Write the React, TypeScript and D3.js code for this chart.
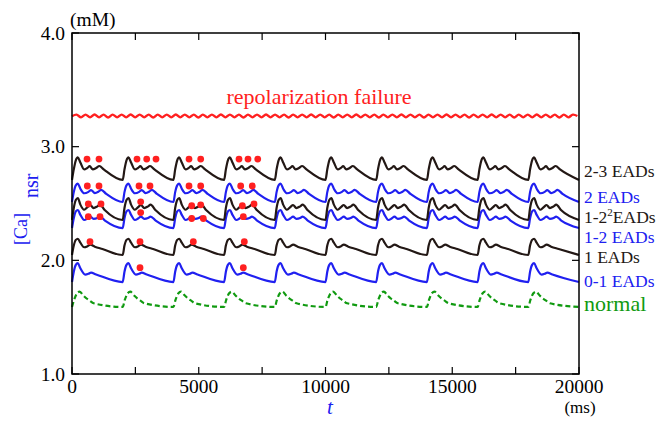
import React from "react";
import * as d3 from "d3";

// ---------- data ----------
const periodMs = 2000;
const cycleCount = 10;

// one beat of each trace: [ms from beat start, mM]
const cycle23EADs: [number, number][] = [[0, 2.707], [70, 2.8], [150, 2.88], [230, 2.905], [330, 2.86], [480, 2.8], [600, 2.812], [700, 2.828], [820, 2.8], [950, 2.812], [1080, 2.83], [1250, 2.8], [2000, 2.707]];
const cycle2EADs: [number, number][] = [[0, 2.513], [70, 2.6], [150, 2.66], [230, 2.675], [330, 2.63], [480, 2.59], [650, 2.602], [750, 2.618], [900, 2.592], [1050, 2.605], [1150, 2.62], [1350, 2.585], [2000, 2.513]];
const cycle12sqEADs: [number, number][] = [[0, 2.355], [70, 2.46], [150, 2.53], [230, 2.548], [330, 2.49], [480, 2.445], [620, 2.47], [720, 2.487], [850, 2.46], [1000, 2.475], [1100, 2.49], [1300, 2.44], [2000, 2.355]];
const cycle12EADs: [number, number][] = [[0, 2.284], [70, 2.37], [150, 2.43], [230, 2.443], [330, 2.4], [480, 2.355], [620, 2.37], [720, 2.385], [850, 2.365], [1000, 2.372], [1100, 2.385], [1300, 2.35], [2000, 2.284]];
const cycle1EADs: [number, number][] = [[0, 2.047], [70, 2.13], [150, 2.18], [230, 2.19], [330, 2.155], [480, 2.115], [620, 2.125], [720, 2.138], [900, 2.12], [1200, 2.1], [2000, 2.047]];
const cycle01EADs: [number, number][] = [[0, 1.809], [70, 1.9], [150, 1.96], [230, 1.975], [330, 1.93], [520, 1.875], [650, 1.882], [750, 1.892], [950, 1.876], [2000, 1.809]];
const cycleNormal: [number, number][] = [[0, 1.59], [80, 1.65], [200, 1.71], [300, 1.724], [450, 1.69], [590, 1.662], [700, 1.645], [855, 1.622], [2000, 1.59]];

// repolarization failure: successive extremes of the small oscillation
const failureStepMs = 178;
const failureExtremes = [
  3.268, 3.282, 3.258, 3.282, 3.258, 3.283, 3.258, 3.282, 3.257, 3.282,
  3.258, 3.282, 3.258, 3.283, 3.258, 3.282, 3.258, 3.282, 3.257, 3.282,
  3.258, 3.282, 3.258, 3.283, 3.258, 3.282, 3.258, 3.282, 3.257, 3.282,
  3.258, 3.282, 3.258, 3.283, 3.258, 3.282, 3.258, 3.282, 3.257, 3.282,
  3.258, 3.282, 3.258, 3.283, 3.258, 3.282, 3.258, 3.282, 3.257, 3.282,
  3.258, 3.282, 3.258, 3.283, 3.258, 3.282, 3.258, 3.282, 3.257, 3.282,
  3.258, 3.282, 3.258, 3.283, 3.258, 3.282, 3.258, 3.282, 3.257, 3.282,
  3.258, 3.282, 3.258, 3.283, 3.258, 3.282, 3.258, 3.282, 3.257, 3.282,
  3.258, 3.282, 3.258, 3.283, 3.258, 3.282, 3.258, 3.282, 3.257, 3.282,
  3.258, 3.282, 3.258, 3.283, 3.258, 3.282, 3.258, 3.282, 3.257, 3.282,
  3.258, 3.282, 3.258, 3.283, 3.258, 3.282, 3.258, 3.282, 3.257, 3.282,
  3.258, 3.282, 3.27,
];

// EAD markers: [ms, mM]
const dots23: [number, number][] = [[592, 2.891], [1065, 2.891], [2564, 2.891], [2947, 2.891], [3314, 2.891], [4616, 2.891], [5077, 2.891], [6588, 2.891], [6943, 2.891], [7326, 2.891]];
const dots2: [number, number][] = [[604, 2.654], [1065, 2.654], [2643, 2.654], [3077, 2.654], [4616, 2.654], [5077, 2.654], [6654, 2.654], [7112, 2.654]];
const dots12sq: [number, number][] = [[643, 2.496], [1144, 2.496], [2709, 2.515], [4721, 2.48], [5077, 2.488], [6720, 2.48], [7180, 2.496]];
const dots12: [number, number][] = [[643, 2.384], [1105, 2.384], [2709, 2.42], [4721, 2.368], [5180, 2.368], [6758, 2.384]];
const dots1: [number, number][] = [[710, 2.164], [2683, 2.164], [4786, 2.164], [6798, 2.164]];
const dots01: [number, number][] = [[2683, 1.935], [6758, 1.935]];

const xMajorTicks = [0, 5000, 10000, 15000, 20000];
const xMinorTicks = [2500, 7500, 12500, 17500];
const yTicks = [1.0, 2.0, 3.0, 4.0];

// ---------- layout ----------
const W = 667, H = 421;
const L = 72, R = 579, T = 33, B = 374;
const BLACK = "#231815", BLUE = "#2020f0", GREEN = "#109a10", RED = "#ff2020";
const FONT = "'Liberation Serif', 'Times New Roman', serif";

const x = d3.scaleLinear().domain([0, 20000]).range([L, R]);
const y = d3.scaleLinear().domain([1, 4]).range([B, T]);

function expand(cycle: [number, number][]): [number, number][] {
  const pts: [number, number][] = [];
  for (let c = 0; c < cycleCount; c++) {
    cycle.forEach(([dt, v], i) => {
      if (c > 0 && i === 0) return;
      pts.push([c * periodMs + dt, v]);
    });
  }
  return pts;
}

const line = d3.line<[number, number]>().x(d => x(d[0])).y(d => y(d[1])).curve(d3.curveMonotoneX);
const failurePts: [number, number][] = failureExtremes.map((v, i) => [Math.min(i * failureStepMs, 20000), v]);
const waveLine = d3.line<[number, number]>().x(d => x(d[0])).y(d => y(d[1])).curve(d3.curveCatmullRom);

const traces = [
  { cycle: cycleNormal, color: GREEN, dash: "5,3" },
  { cycle: cycle01EADs, color: BLUE },
  { cycle: cycle1EADs, color: BLACK },
  { cycle: cycle12EADs, color: BLUE },
  { cycle: cycle12sqEADs, color: BLACK },
  { cycle: cycle2EADs, color: BLUE },
  { cycle: cycle23EADs, color: BLACK },
];
const dotSets = [dots23, dots2, dots12sq, dots12, dots1, dots01];

export default function App() {
  return (
    <svg width={W} height={H} style={{ position: "absolute", left: 0, top: 0, background: "#fff" }} fontFamily={FONT}>
      {/* traces */}
      {traces.map((t, i) => (
        <path key={i} d={line(expand(t.cycle)) || ""} fill="none" stroke={t.color} strokeWidth={2.2}
          strokeDasharray={t.dash} strokeLinejoin="round" />
      ))}
      <path d={waveLine(failurePts) || ""} fill="none" stroke={RED} strokeWidth={2.4} />
      {dotSets.map((s, i) => s.map(([t, v], j) => (
        <circle key={`${i}-${j}`} cx={x(t)} cy={y(v)} r={3.4} fill={RED} />
      )))}

      {/* frame */}
      <rect x={L} y={T} width={R - L} height={B - T} fill="none" stroke="#000" strokeWidth={1.5} />
      {[...xMajorTicks, ...xMinorTicks].map(t => (
        <g key={t}>
          <line x1={x(t)} x2={x(t)} y1={B} y2={B - 7} stroke="#000" strokeWidth={1.2} />
          <line x1={x(t)} x2={x(t)} y1={T} y2={T + 7} stroke="#000" strokeWidth={1.2} />
        </g>
      ))}
      {yTicks.map(v => (
        <g key={v}>
          <line x1={L} x2={L + 7} y1={y(v)} y2={y(v)} stroke="#000" strokeWidth={1.2} />
          <line x1={R} x2={R - 7} y1={y(v)} y2={y(v)} stroke="#000" strokeWidth={1.2} />
          <text x={65} y={y(v) + 6.5} textAnchor="end" fontSize={19.5}>{v.toFixed(1)}</text>
        </g>
      ))}
      {xMajorTicks.map(t => (
        <text key={t} x={x(t)} y={393} textAnchor="middle" fontSize={19.5}>{t}</text>
      ))}

      {/* axis titles */}
      <text x={70} y={26} fontSize={19.5}>(mM)</text>
      <text x={580} y={413} textAnchor="middle" fontSize={17}>(ms)</text>
      <text x={327} y={414} fontSize={21} fontStyle="italic" fill={BLUE}>t</text>
      <text transform="translate(27,245) rotate(-90)" fill={BLUE} fontSize={18}>[Ca]</text>
      <text transform="translate(38,198) rotate(-90)" fill={BLUE} fontSize={20}>nsr</text>

      {/* labels */}
      <text x={319} y={104} textAnchor="middle" fontSize={22} fill={RED}>repolarization failure</text>
      <text x={584} y={177} fontSize={17.5} fill={BLACK}>2-3 EADs</text>
      <text x={584} y={203} fontSize={17.5} fill={BLUE}>2 EADs</text>
      <text x={584} y={223} fontSize={17.5} fill={BLACK}>1-2<tspan fontSize={11} dy={-7}>2</tspan><tspan dy={7}>EADs</tspan></text>
      <text x={584} y={243} fontSize={17.5} fill={BLUE}>1-2 EADs</text>
      <text x={584} y={263} fontSize={17.5} fill={BLACK}>1 EADs</text>
      <text x={584} y={287} fontSize={17.5} fill={BLUE}>0-1 EADs</text>
      <text x={584} y={311} fontSize={22} fill={GREEN}>normal</text>
    </svg>
  );
}
